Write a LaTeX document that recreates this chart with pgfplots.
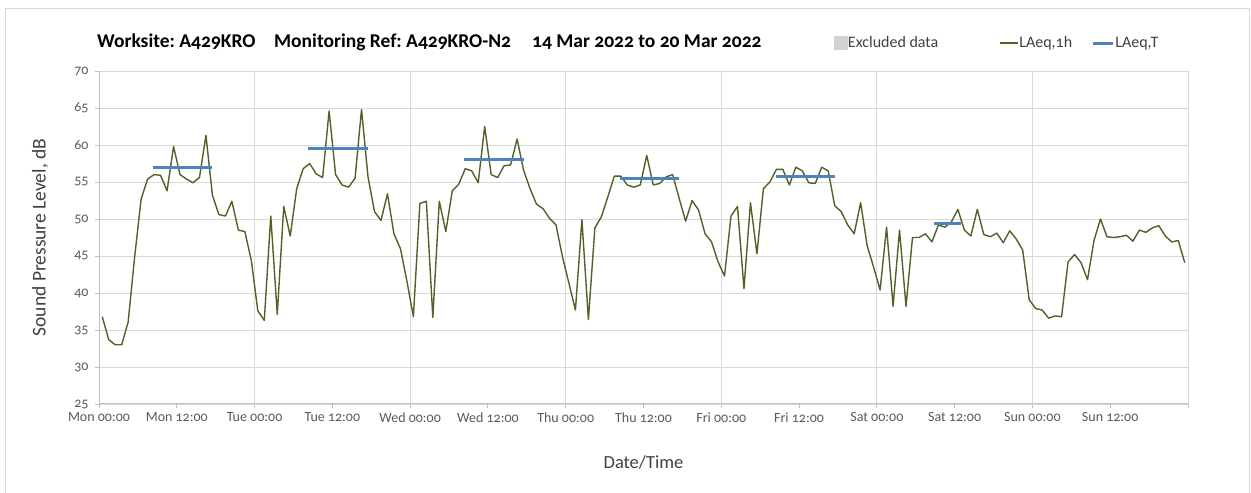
\documentclass[border=0pt]{standalone}
\usepackage{fontspec}
\setmainfont{Carlito}[RawFeature=+onum]
\usepackage{pgfplots}
\pgfplotsset{compat=1.18}
\definecolor{lineG}{RGB}{79,98,40}
\definecolor{lineB}{RGB}{79,129,189}
\definecolor{gridC}{RGB}{217,217,217}
\definecolor{axisC}{RGB}{191,191,191}
\definecolor{tickC}{RGB}{89,89,89}
\definecolor{labC}{RGB}{64,64,64}
\frenchspacing
\begin{document}
\begin{tikzpicture}[x=1bp,y=1bp]
\begin{axis}[
  at={(99bp,89bp)}, anchor=south west,
  scale only axis, width=1089bp, height=333bp,
  xmin=0, xmax=168, ymin=25, ymax=70,
  axis x line*=bottom, axis y line*=left,
  axis line style={axisC, line width=1bp, -},
  xtick={0,12,...,156},
  xticklabels={Mon 00:00, Mon 12:00, Tue 00:00, Tue 12:00, Wed 00:00, Wed 12:00, Thu 00:00, Thu 12:00, Fri 00:00, Fri 12:00, Sat 00:00, Sat 12:00, Sun 00:00, Sun 12:00},
  extra x ticks={24,48,72,96,120,144,168},
  extra x tick labels={},
  extra x tick style={grid=major},
  ytick={25,30,...,70},
  ymajorgrids,
  major grid style={gridC, line width=0.9bp},
  tick align=outside, major tick length=4bp,
  tick style={axisC, line width=0.9bp},
  /pgf/number format/assume math mode=true,
  xticklabel style={font=\fontsize{14bp}{14bp}\selectfont, text=tickC, yshift=-1bp},
  yticklabel style={font=\fontsize{14bp}{14bp}\selectfont, text=tickC, xshift=-3bp},
  xlabel={Date/Time},
  ylabel={Sound Pressure Level, dB},
  xlabel style={font=\fontsize{18.5bp}{19bp}\selectfont, text=labC, at={(axis description cs:0.5,-0.177)}, anchor=center},
  ylabel style={font=\fontsize{19.5bp}{20bp}\selectfont, text=labC, at={(axis description cs:-0.054,0.5)}, anchor=center},
  legend columns=3,
  legend style={draw=none, fill=none, inner sep=0pt, at={(axis description cs:-0.0006,1.084)}, anchor=west,
    xshift=735bp,
    font=\fontsize{16bp}{17bp}\selectfont, text=labC,
    nodes={inner sep=1bp},
    /tikz/every even column/.append style={column sep=0bp},
    /tikz/every odd column/.append style={column sep=0bp}},
  clip=false,
]
\addlegendimage{legend image code/.code={\fill[gray!35] (0bp,-6.5bp) rectangle (13bp,6.5bp);}}
\addlegendentry{\makebox[150bp][l]{Excluded data}}
\addplot[lineG, line width=1.4bp, line join=round,
  legend image code/.code={\draw[lineG, line width=1.4bp] (0bp,0bp)--(18bp,0bp);}] coordinates {
(0.5,36.8)(1.5,33.7)(2.5,33.0)(3.5,33.0)(4.5,36.1)(5.5,44.9)(6.5,52.7)(7.5,55.4)(8.5,56.0)(9.5,55.9)
(10.5,53.8)(11.5,59.8)(12.5,56.0)(13.5,55.4)(14.5,54.9)(15.5,55.6)(16.5,61.3)(17.5,53.2)(18.5,50.6)(19.5,50.4)
(20.5,52.4)(21.5,48.5)(22.5,48.3)(23.5,44.4)(24.5,37.6)(25.5,36.3)(26.5,50.4)(27.5,37.1)(28.5,51.7)(29.5,47.7)
(30.5,54.1)(31.5,56.8)(32.5,57.5)(33.5,56.1)(34.5,55.6)(35.5,64.6)(36.5,56.0)(37.5,54.6)(38.5,54.3)(39.5,55.5)
(40.5,64.8)(41.5,55.7)(42.5,51.0)(43.5,49.8)(44.5,53.4)(45.5,48.0)(46.5,46.0)(47.5,41.6)(48.5,36.8)(49.5,52.1)
(50.5,52.4)(51.5,36.7)(52.5,52.4)(53.5,48.3)(54.5,53.8)(55.5,54.7)(56.5,56.8)(57.5,56.5)(58.5,54.9)(59.5,62.5)
(60.5,56.0)(61.5,55.6)(62.5,57.2)(63.5,57.3)(64.5,60.8)(65.5,56.6)(66.5,54.1)(67.5,52.0)(68.5,51.4)(69.5,50.1)
(70.5,49.2)(71.5,44.9)(72.5,41.3)(73.5,37.7)(74.5,49.9)(75.5,36.4)(76.5,48.8)(77.5,50.3)(78.5,53.0)(79.5,55.8)
(80.5,55.8)(81.5,54.6)(82.5,54.3)(83.5,54.6)(84.5,58.6)(85.5,54.6)(86.5,54.8)(87.5,55.7)(88.5,56.0)(89.5,52.8)
(90.5,49.7)(91.5,52.5)(92.5,51.2)(93.5,48.0)(94.5,46.9)(95.5,44.2)(96.5,42.3)(97.5,50.4)(98.5,51.7)(99.5,40.6)
(100.5,52.2)(101.5,45.3)(102.5,54.1)(103.5,55.0)(104.5,56.7)(105.5,56.7)(106.5,54.6)(107.5,57.0)(108.5,56.5)(109.5,54.9)
(110.5,54.8)(111.5,57.0)(112.5,56.5)(113.5,51.8)(114.5,51.0)(115.5,49.2)(116.5,48.0)(117.5,52.2)(118.5,46.4)(119.5,43.5)
(120.5,40.4)(121.5,48.9)(122.5,38.2)(123.5,48.5)(124.5,38.2)(125.5,47.5)(126.5,47.5)(127.5,48.0)(128.5,46.9)(129.5,49.2)
(130.5,48.9)(131.5,49.6)(132.5,51.3)(133.5,48.5)(134.5,47.7)(135.5,51.3)(136.5,47.9)(137.5,47.6)(138.5,48.1)(139.5,46.8)
(140.5,48.4)(141.5,47.3)(142.5,45.8)(143.5,39.1)(144.5,37.9)(145.5,37.7)(146.5,36.6)(147.5,36.9)(148.5,36.8)(149.5,44.2)
(150.5,45.2)(151.5,44.1)(152.5,41.8)(153.5,47.1)(154.5,50.0)(155.5,47.6)(156.5,47.5)(157.5,47.6)(158.5,47.8)(159.5,47.0)
(160.5,48.5)(161.5,48.2)(162.5,48.8)(163.5,49.1)(164.5,47.7)(165.5,46.9)(166.5,47.1)(167.5,44.1)
};
\addlegendentry{\makebox[71bp][l]{LAeq,1h}}
\addplot[lineB, line width=3bp,
  legend image code/.code={\draw[lineB, line width=3bp] (0bp,0bp)--(20bp,0bp);}] coordinates {(8.4,57.0)(17.5,57.0)};
\addlegendentry{LAeq,T}
\addplot[lineB, line width=3bp, forget plot] coordinates {(32.3,59.5)(41.5,59.5)};
\addplot[lineB, line width=3bp, forget plot] coordinates {(56.3,58.1)(65.5,58.1)};
\addplot[lineB, line width=3bp, forget plot] coordinates {(80.3,55.5)(89.5,55.5)};
\addplot[lineB, line width=3bp, forget plot] coordinates {(104.5,55.8)(113.6,55.8)};
\addplot[lineB, line width=3bp, forget plot] coordinates {(128.8,49.4)(133.0,49.4)};
\end{axis}
\begin{scope}[font=\bfseries\fontsize{19.5bp}{20bp}\selectfont]
\node[anchor=base west, inner sep=0] at (97bp,445bp) {Worksite: A429KRO};
\node[anchor=base west, inner sep=0] at (274bp,445bp) {Monitoring Ref: A429KRO-N2};
\node[anchor=base west, inner sep=0] at (532bp,445bp) {14 Mar 2022 to 20 Mar 2022};
\end{scope}
\draw[gridC, line width=1bp] (5bp,-10bp) -- (5bp,484bp) -- (1249bp,484bp) -- (1249bp,-10bp);
\pgfresetboundingbox
\useasboundingbox (0,0) rectangle (1251bp,493bp);
\end{tikzpicture}
\end{document}
